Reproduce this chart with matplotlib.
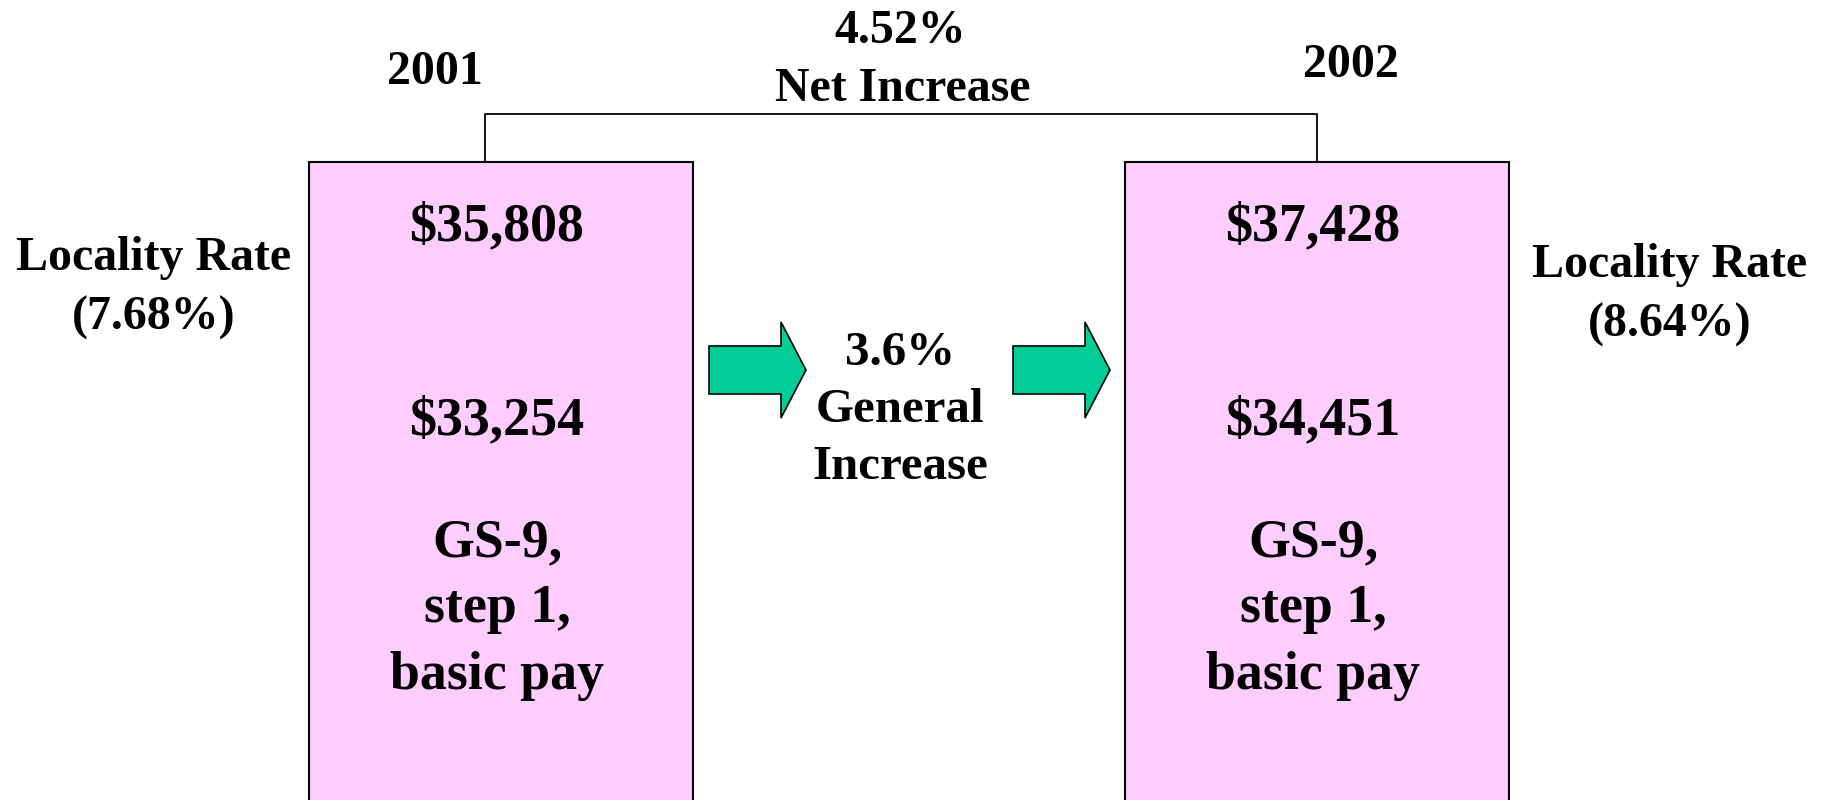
import matplotlib
matplotlib.use("Agg")
import matplotlib.pyplot as plt
from matplotlib.patches import Rectangle, Polygon

# ---- data ----
years = ["2001", "2002"]
locality_pay = ["$35,808", "$37,428"]
basic_pay = ["$33,254", "$34,451"]
locality_rates = ["(7.68%)", "(8.64%)"]
grade_lines = ["GS-9,", "step 1,", "basic pay"]
general_increase = ["3.6%", "General", "Increase"]
net_increase = ["4.52%", "Net Increase"]

# ---- layout (pixel coords, y down) ----
W, H = 1831, 800
fig = plt.figure(figsize=(W / 100, H / 100), dpi=100)
ax = fig.add_axes([0, 0, 1, 1])
ax.set_xlim(0, W)
ax.set_ylim(H, 0)
ax.axis("off")

FONT = "Liberation Serif"
def tkw(fs):
    return dict(family=FONT, weight="bold", fontsize=fs, ha="center", va="center", color="black")

FS_OUT = 34.5
FS_BOX = 38.8
FS_GEN = 35.3

PINK = "#FFCCFF"
GREEN = "#00CC99"

box_x = [309, 1125]
box_w = 384
box_top = 162
box_cx = [b + box_w / 2 - 4 for b in box_x]

for i, bx in enumerate(box_x):
    ax.add_patch(Rectangle((bx, box_top), box_w, H - box_top + 20, facecolor=PINK,
                           edgecolor="black", linewidth=1.5, zorder=1))
    cx = box_cx[i]
    ax.text(cx, 227, locality_pay[i], **tkw(FS_BOX))
    ax.text(cx, 421, basic_pay[i], **tkw(FS_BOX))
    for j, line in enumerate(grade_lines):
        ax.text(cx, 543 + j * 66.5, line, **tkw(FS_BOX))

# year labels
ax.text(435, 72, years[0], **tkw(FS_OUT))
ax.text(1351, 65, years[1], **tkw(FS_OUT))

# locality rate labels
ax.text(154, 258, "Locality Rate", **tkw(FS_OUT))
ax.text(154, 318, locality_rates[0], **tkw(FS_OUT))
ax.text(1670, 265, "Locality Rate", **tkw(FS_OUT))
ax.text(1670, 325, locality_rates[1], **tkw(FS_OUT))

# bracket
bx1, bx2, by = 485, 1317, 114
ax.plot([bx1, bx1, bx2, bx2], [box_top, by, by, box_top], color="black", lw=1.3, zorder=2)

# net increase
ax.text(900, 31, net_increase[0], **tkw(FS_OUT))
ax.text(903, 89, net_increase[1], **tkw(FS_OUT))

# general increase
for j, line in enumerate(general_increase):
    ax.text(900, 353 + j * 57, line, **tkw(FS_GEN))

# arrows
def arrow(x0):
    shaft_len, head_len = 72, 25
    pts = [(x0, 346), (x0 + shaft_len, 346), (x0 + shaft_len, 322),
           (x0 + shaft_len + head_len, 370), (x0 + shaft_len, 418),
           (x0 + shaft_len, 394), (x0, 394)]
    ax.add_patch(Polygon(pts, closed=True, facecolor=GREEN, edgecolor="black",
                         linewidth=1.2, zorder=3))

arrow(709)
arrow(1013)

fig.savefig("out.png", dpi=100, facecolor="white")
